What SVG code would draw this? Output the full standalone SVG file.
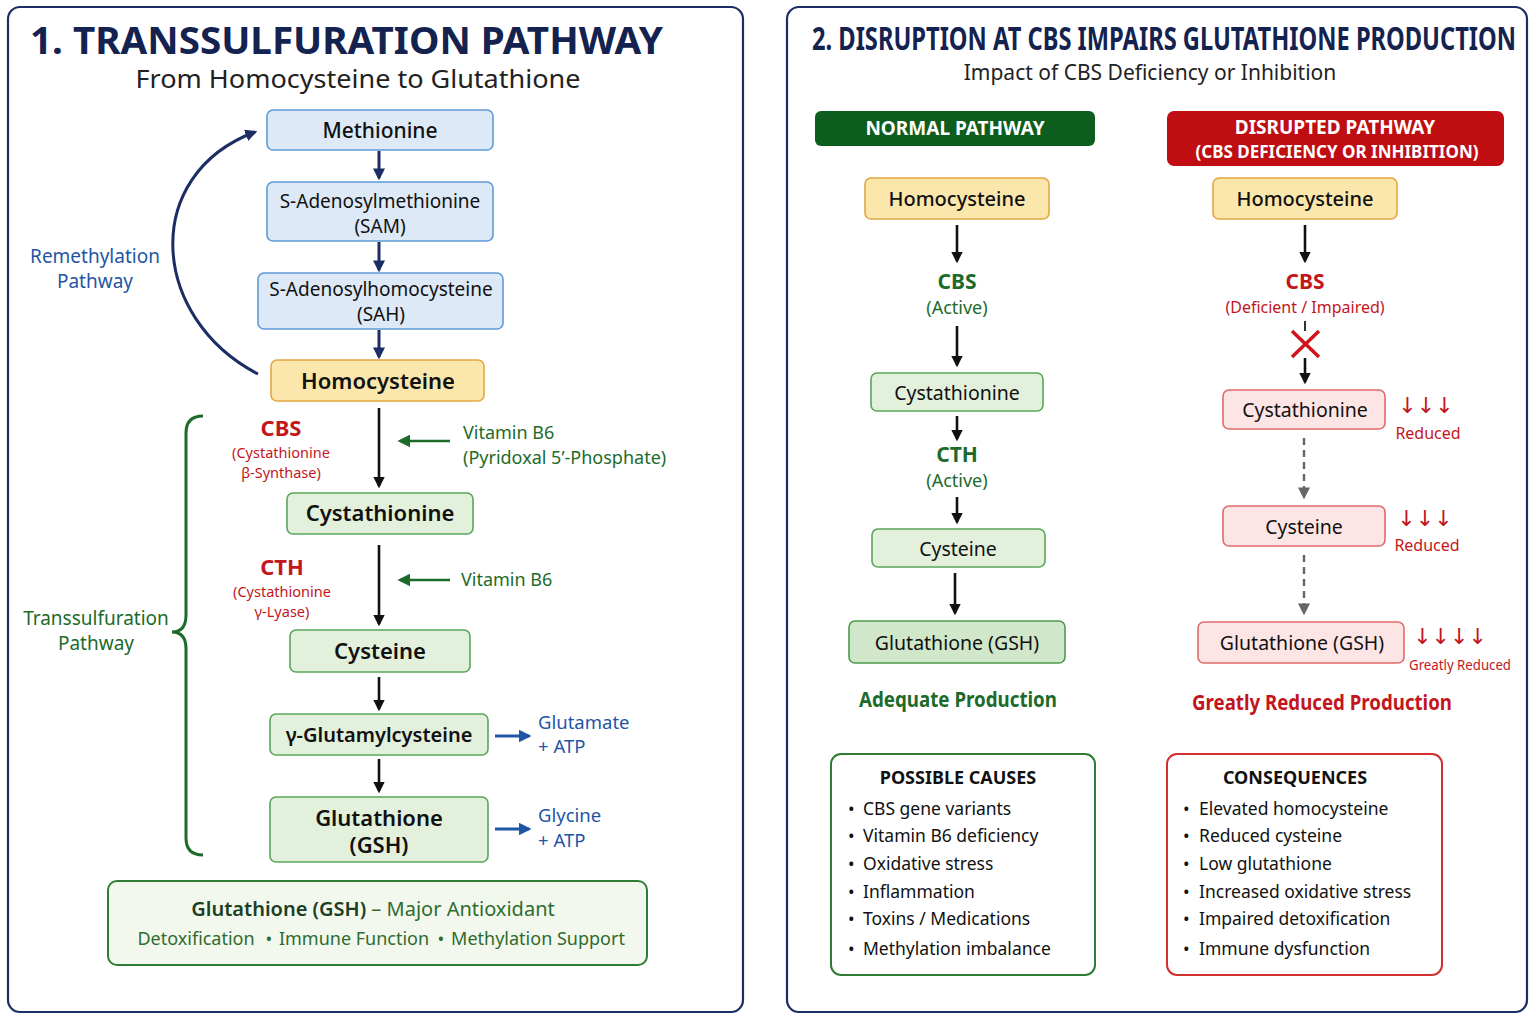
<svg xmlns="http://www.w3.org/2000/svg" width="1536" height="1024" viewBox="0 0 1536 1024">
<defs>
<style>
text{font-family:"Noto Sans","Open Sans","DejaVu Sans",sans-serif;}
.panel{fill:#ffffff;stroke:#1b2d62;stroke-width:2.2;}
.blue{fill:#dde9f6;stroke:#5f9bd6;stroke-width:1.6;}
.yel{fill:#fbe7ab;stroke:#e3a743;stroke-width:1.6;}
.grn{fill:#e2f0dc;stroke:#5aa65a;stroke-width:1.6;}
.grn2{fill:#d0e7c9;stroke:#4e9a4e;stroke-width:1.6;}
.red{fill:#fde5e5;stroke:#e26a6a;stroke-width:1.6;}
.c{text-anchor:middle;}
.nodeT{font-size:21px;fill:#111;}
.nodeB{font-size:22px;font-weight:600;fill:#111;}
.navyL{stroke:#1b2d62;stroke-width:3;fill:none;}
.blkL{stroke:#111;stroke-width:2.6;fill:none;}
.grnL{stroke:#1d6b2a;stroke-width:2.6;fill:none;}
.bluL{stroke:#1f55a5;stroke-width:2.8;fill:none;}
.gryL{stroke:#666;stroke-width:2.4;fill:none;stroke-dasharray:7 5;}
.redT{fill:#c3161c;}
.grnT{fill:#1d6b2a;}
.bluT{fill:#1f55a5;}
</style>
<marker id="mNavy" viewBox="0 0 10 10" refX="8" refY="5" markerWidth="4" markerHeight="4" orient="auto"><path d="M0,0L10,5L0,10z" fill="#1b2d62"/></marker>
<marker id="mBlk" viewBox="0 0 10 10" refX="8" refY="5" markerWidth="4.5" markerHeight="4.5" orient="auto"><path d="M0,0L10,5L0,10z" fill="#111"/></marker>
<marker id="mGrn" viewBox="0 0 10 10" refX="8" refY="5" markerWidth="5" markerHeight="5" orient="auto"><path d="M0,0L10,5L0,10z" fill="#1d6b2a"/></marker>
<marker id="mBlu" viewBox="0 0 10 10" refX="8" refY="5" markerWidth="4.5" markerHeight="4.5" orient="auto"><path d="M0,0L10,5L0,10z" fill="#1f55a5"/></marker>
<marker id="mGry" viewBox="0 0 10 10" refX="8" refY="5" markerWidth="5" markerHeight="5" orient="auto"><path d="M0,0L10,5L0,10z" fill="#666"/></marker>
</defs>
<rect width="1536" height="1024" fill="#ffffff"/>

<!-- Panels -->
<rect class="panel" x="8" y="7" width="735" height="1005" rx="12"/>
<rect class="panel" x="787" y="7" width="740" height="1005" rx="12"/>

<!-- Titles -->
<text x="30" y="54" font-size="38" font-weight="700" fill="#14224f" textLength="633" lengthAdjust="spacingAndGlyphs">1. TRANSSULFURATION PATHWAY</text>
<text x="358" y="88" class="c" font-size="25" fill="#222" textLength="445" lengthAdjust="spacingAndGlyphs">From Homocysteine to Glutathione</text>
<text x="812" y="50" font-size="32" font-weight="700" fill="#14224f" textLength="704" lengthAdjust="spacingAndGlyphs">2. DISRUPTION AT CBS IMPAIRS GLUTATHIONE PRODUCTION</text>
<text x="1150" y="80" class="c" font-size="21" fill="#222">Impact of CBS Deficiency or Inhibition</text>

<!-- Connectors -->
<g id="connectors">
<path class="navyL" d="M379,151V178" marker-end="url(#mNavy)"/>
<path class="navyL" d="M379,242V270" marker-end="url(#mNavy)"/>
<path class="navyL" d="M379,330V357" marker-end="url(#mNavy)"/>
<path class="navyL" d="M258,374C150,318 140,175 255,132" marker-end="url(#mNavy)"/>
<path d="M203,416Q186,416 186,433L186,615Q186,632 172,632Q186,632 186,649L186,838Q186,855 203,855" fill="none" stroke="#1d6b2a" stroke-width="3"/>
<path class="blkL" d="M379,408V486" marker-end="url(#mBlk)"/>
<path class="grnL" d="M450,441H400" marker-end="url(#mGrn)"/>
<path class="blkL" d="M379,545V624" marker-end="url(#mBlk)"/>
<path class="grnL" d="M450,580H400" marker-end="url(#mGrn)"/>
<path class="blkL" d="M379,677V709" marker-end="url(#mBlk)"/>
<path class="blkL" d="M379,759V791" marker-end="url(#mBlk)"/>
<path class="bluL" d="M495,736H529" marker-end="url(#mBlu)"/>
<path class="bluL" d="M495,829H529" marker-end="url(#mBlu)"/>

<path class="blkL" d="M957,225V261" marker-end="url(#mBlk)"/>
<path class="blkL" d="M957,326V365" marker-end="url(#mBlk)"/>
<path class="blkL" d="M957,416V439" marker-end="url(#mBlk)"/>
<path class="blkL" d="M957,497V522" marker-end="url(#mBlk)"/>
<path class="blkL" d="M955,573V613" marker-end="url(#mBlk)"/>

<path class="blkL" d="M1305,225V261" marker-end="url(#mBlk)"/>
<path d="M1305,321V331" stroke="#333" stroke-width="2"/>
<path class="blkL" d="M1305,358V382" marker-end="url(#mBlk)"/>
<path class="gryL" d="M1304,438V497" marker-end="url(#mGry)"/>
<path class="gryL" d="M1304,555V613" marker-end="url(#mGry)"/>
<path d="M1292,331L1319,357M1319,331L1292,357" stroke="#d0141c" stroke-width="3.5"/>
</g>

<!-- Left labels -->
<g id="remethylation-label">
<text x="95" y="263" class="c bluT" font-size="19">Remethylation</text>
<text x="95" y="288" class="c bluT" font-size="19">Pathway</text>
</g>
<g id="transsulfuration-label">
<text x="96" y="625" class="c grnT" font-size="19">Transsulfuration</text>
<text x="96" y="650" class="c grnT" font-size="19">Pathway</text>
</g>

<g id="methionine"><rect class="blue" x="267" y="110" width="226" height="40" rx="6"/><text x="380" y="138" class="c nodeT" font-weight="500">Methionine</text></g>
<g id="sam"><rect class="blue" x="267" y="182" width="226" height="59" rx="6"/><text x="380" y="208" class="c" font-size="19" fill="#111">S-Adenosylmethionine</text><text x="380" y="233" class="c" font-size="19" fill="#111">(SAM)</text></g>
<g id="sah"><rect class="blue" x="258" y="273" width="245" height="56" rx="6"/><text x="381" y="296" class="c" font-size="19" fill="#111">S-Adenosylhomocysteine</text><text x="381" y="321" class="c" font-size="19" fill="#111">(SAH)</text></g>
<g id="homocysteine"><rect class="yel" x="271" y="360" width="213" height="41" rx="6"/><text x="378" y="389" class="c nodeB">Homocysteine</text></g>

<g id="cbs-label">
<text x="281" y="436" class="c redT" font-size="22" font-weight="700">CBS</text>
<text x="281" y="458" class="c redT" font-size="14.5">(Cystathionine</text>
<text x="281" y="478" class="c redT" font-size="14.5">β-Synthase)</text>
</g>
<g id="vitb6-1">
<text x="463" y="439" class="grnT" font-size="18">Vitamin B6</text>
<text x="463" y="464" class="grnT" font-size="18">(Pyridoxal 5’-Phosphate)</text>
</g>
<g id="cystathionine"><rect class="grn" x="287" y="493" width="186" height="41" rx="6"/><text x="380" y="521" class="c nodeB">Cystathionine</text></g>
<g id="cth-label">
<text x="282" y="575" class="c redT" font-size="22" font-weight="700">CTH</text>
<text x="282" y="597" class="c redT" font-size="14.5">(Cystathionine</text>
<text x="282" y="617" class="c redT" font-size="14.5">γ-Lyase)</text>
</g>
<g id="vitb6-2"><text x="461" y="586" class="grnT" font-size="18">Vitamin B6</text></g>
<g id="cysteine"><rect class="grn" x="290" y="630" width="180" height="42" rx="6"/><text x="380" y="659" class="c nodeB">Cysteine</text></g>
<g id="glutamylcysteine"><rect class="grn" x="270" y="714" width="218" height="41" rx="6"/><text x="379" y="742" class="c" font-size="20" font-weight="600" fill="#111">γ-Glutamylcysteine</text></g>
<g id="glutamate"><text x="538" y="729" class="bluT" font-size="18.5">Glutamate</text><text x="538" y="753" class="bluT" font-size="18.5">+ ATP</text></g>
<g id="glutathione"><rect class="grn" x="270" y="797" width="218" height="65" rx="6"/><text x="379" y="826" class="c nodeB">Glutathione</text><text x="379" y="853" class="c nodeB">(GSH)</text></g>
<g id="glycine"><text x="538" y="822" class="bluT" font-size="18.5">Glycine</text><text x="538" y="847" class="bluT" font-size="18.5">+ ATP</text></g>

<g id="gsh-summary">
<rect x="108" y="881" width="539" height="84" rx="9" fill="#f3f8ef" stroke="#2e7d32" stroke-width="2"/>
<text x="373" y="916" class="c" font-size="20"><tspan font-weight="600" fill="#1b3f1f">Glutathione (GSH)</tspan><tspan fill="#2e6b2e"> – Major Antioxidant</tspan></text>
<g font-size="18" fill="#2e6b2e">
<text x="196" y="945" class="c">Detoxification</text>
<text x="269" y="945" class="c">•</text>
<text x="354" y="945" class="c">Immune Function</text>
<text x="441" y="945" class="c">•</text>
<text x="538" y="945" class="c">Methylation Support</text>
</g>
</g>

<!-- Right panel: normal -->
<g id="normal-header"><rect x="815" y="111" width="280" height="35" rx="6" fill="#0d5e1e"/><text x="955" y="135" class="c" font-size="19" font-weight="700" fill="#fff">NORMAL PATHWAY</text></g>
<g id="n-homocysteine"><rect class="yel" x="865" y="178" width="184" height="41" rx="6"/><text x="957" y="206" class="c" font-size="20" font-weight="500" fill="#111">Homocysteine</text></g>
<g id="n-cbs"><text x="957" y="289" class="c grnT" font-size="21" font-weight="700">CBS</text><text x="957" y="314" class="c grnT" font-size="18">(Active)</text></g>
<g id="n-cystathionine"><rect class="grn" x="871" y="373" width="172" height="38" rx="6"/><text x="957" y="400" class="c" font-size="19.5" fill="#111">Cystathionine</text></g>
<g id="n-cth"><text x="957" y="462" class="c grnT" font-size="21" font-weight="700">CTH</text><text x="957" y="487" class="c grnT" font-size="18">(Active)</text></g>
<g id="n-cysteine"><rect class="grn" x="872" y="529" width="173" height="38" rx="6"/><text x="958" y="556" class="c" font-size="19.5" fill="#111">Cysteine</text></g>
<g id="n-glutathione"><rect class="grn2" x="849" y="621" width="216" height="42" rx="6"/><text x="957" y="650" class="c" font-size="19.5" fill="#111">Glutathione (GSH)</text></g>
<text x="958" y="707" class="c grnT" font-size="21" font-weight="700" textLength="198" lengthAdjust="spacingAndGlyphs">Adequate Production</text>

<!-- Right panel: disrupted -->
<g id="disrupted-header"><rect x="1167" y="111" width="337" height="55" rx="7" fill="#c00d12"/><text x="1335" y="134" class="c" font-size="19" font-weight="700" fill="#fff">DISRUPTED PATHWAY</text><text x="1337" y="158" class="c" font-size="17" font-weight="700" fill="#fff">(CBS DEFICIENCY OR INHIBITION)</text></g>
<g id="d-homocysteine"><rect class="yel" x="1213" y="178" width="184" height="41" rx="6"/><text x="1305" y="206" class="c" font-size="20" font-weight="500" fill="#111">Homocysteine</text></g>
<g id="d-cbs"><text x="1305" y="289" class="c redT" font-size="21" font-weight="700">CBS</text><text x="1305" y="313" class="c redT" font-size="16">(Deficient / Impaired)</text></g>
<g id="d-cystathionine"><rect class="red" x="1223" y="390" width="162" height="39" rx="6"/><text x="1305" y="417" class="c" font-size="19.5" fill="#111">Cystathionine</text></g>
<g id="d-cys-red"><text x="1426" y="413" class="c redT" font-size="22">↓↓↓</text><text x="1428" y="439" class="c redT" font-size="16">Reduced</text></g>
<g id="d-cysteine"><rect class="red" x="1223" y="506" width="162" height="40" rx="6"/><text x="1304" y="534" class="c" font-size="19.5" fill="#111">Cysteine</text></g>
<g id="d-cyst-red"><text x="1425" y="526" class="c redT" font-size="22">↓↓↓</text><text x="1427" y="551" class="c redT" font-size="16">Reduced</text></g>
<g id="d-glutathione"><rect class="red" x="1198" y="622" width="206" height="41" rx="6"/><text x="1302" y="650" class="c" font-size="19.5" fill="#111">Glutathione (GSH)</text></g>
<g id="d-gsh-red"><text x="1450" y="644" class="c redT" font-size="22">↓↓↓↓</text><text x="1460" y="670" class="c redT" font-size="15" textLength="102" lengthAdjust="spacingAndGlyphs">Greatly Reduced</text></g>
<text x="1322" y="710" class="c redT" font-size="21" font-weight="700" textLength="260" lengthAdjust="spacingAndGlyphs">Greatly Reduced Production</text>

<!-- Boxes -->
<g id="possible-causes">
<rect x="831" y="754" width="264" height="221" rx="10" fill="#fff" stroke="#2e7d32" stroke-width="2"/>
<text x="958" y="784" class="c" font-size="18" font-weight="700" fill="#111">POSSIBLE CAUSES</text>
<g font-size="17.5" fill="#111">
<text x="848" y="815">•</text><text x="863" y="815">CBS gene variants</text>
<text x="848" y="842">•</text><text x="863" y="842">Vitamin B6 deficiency</text>
<text x="848" y="870">•</text><text x="863" y="870">Oxidative stress</text>
<text x="848" y="898">•</text><text x="863" y="898">Inflammation</text>
<text x="848" y="925">•</text><text x="863" y="925">Toxins / Medications</text>
<text x="848" y="955">•</text><text x="863" y="955">Methylation imbalance</text>
</g>
</g>
<g id="consequences">
<rect x="1167" y="754" width="275" height="221" rx="10" fill="#fff" stroke="#d32f2f" stroke-width="2"/>
<text x="1295" y="784" class="c" font-size="18" font-weight="700" fill="#111">CONSEQUENCES</text>
<g font-size="17.5" fill="#111">
<text x="1183" y="815">•</text><text x="1199" y="815">Elevated homocysteine</text>
<text x="1183" y="842">•</text><text x="1199" y="842">Reduced cysteine</text>
<text x="1183" y="870">•</text><text x="1199" y="870">Low glutathione</text>
<text x="1183" y="898">•</text><text x="1199" y="898">Increased oxidative stress</text>
<text x="1183" y="925">•</text><text x="1199" y="925">Impaired detoxification</text>
<text x="1183" y="955">•</text><text x="1199" y="955">Immune dysfunction</text>
</g>
</g>
</svg>
